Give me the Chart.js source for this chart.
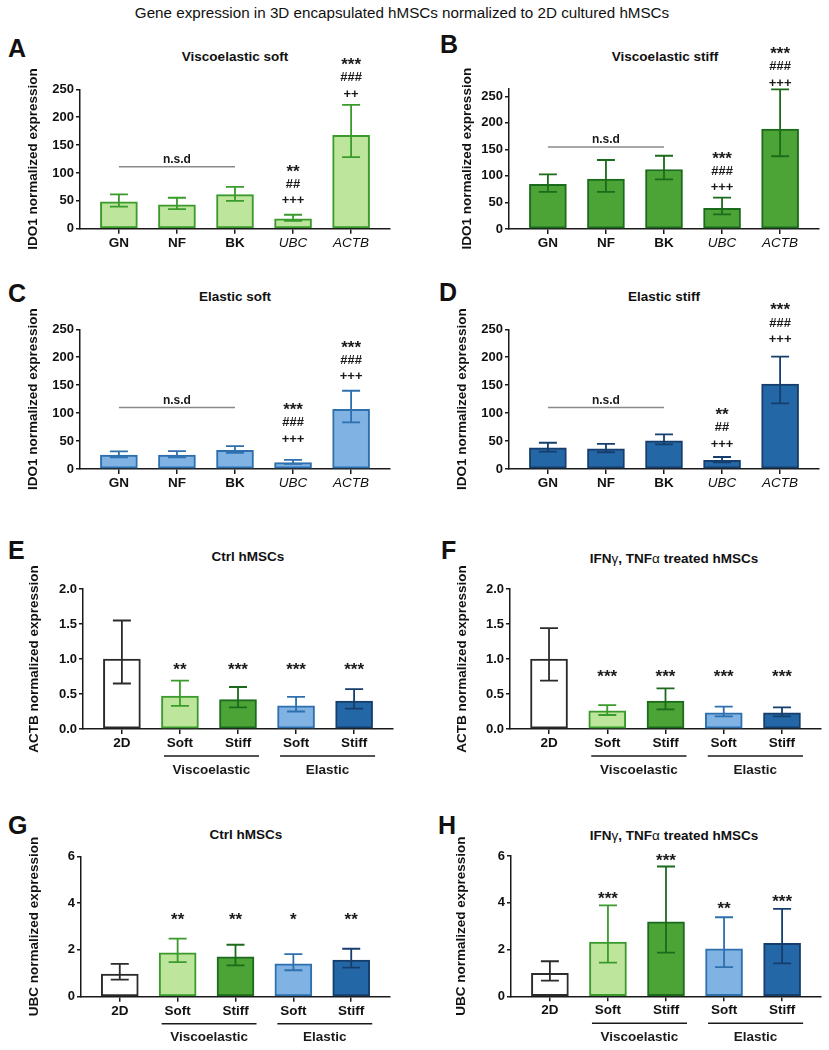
<!DOCTYPE html>
<html>
<head>
<meta charset="utf-8">
<script src="https://cdn.jsdelivr.net/npm/chart.js@4.4.1/dist/chart.umd.min.js"></script>
<style>
  body { margin: 0; background: #fff; }
  #fig { position: relative; width: 829px; height: 1050px; font-family: "Liberation Sans", Arial, sans-serif; color: #111; }
  #fig canvas { position: absolute; }
  .ttl { position: absolute; transform: translate(-50%, -50%); white-space: nowrap; font-weight: bold; font-size: 13.5px; line-height: 1; }
  .ttl span { font-weight: normal; }
  .lab { position: absolute; transform: translateY(-50%); font-weight: bold; font-size: 25px; line-height: 1; }
  #main { position: absolute; left: 402px; top: 13px; transform: translate(-50%, -50%); font-size: 15.2px; white-space: nowrap; line-height: 1; }
</style>
</head>
<body>
<div id="fig">
  <div id="main">Gene expression in 3D encapsulated hMSCs normalized to 2D cultured hMSCs</div>
  <div class="lab" style="left:8px;top:48px">A</div>
  <div class="lab" style="left:440px;top:44px">B</div>
  <div class="lab" style="left:8px;top:293px">C</div>
  <div class="lab" style="left:439px;top:292px">D</div>
  <div class="lab" style="left:8px;top:550px">E</div>
  <div class="lab" style="left:441px;top:550px">F</div>
  <div class="lab" style="left:8px;top:825px">G</div>
  <div class="lab" style="left:438px;top:825px">H</div>
  <div class="ttl" style="left:235px;top:57px">Viscoelastic soft</div>
  <div class="ttl" style="left:665px;top:57px">Viscoelastic stiff</div>
  <div class="ttl" style="left:235px;top:297px">Elastic soft</div>
  <div class="ttl" style="left:664px;top:297px">Elastic stiff</div>
  <div class="ttl" style="left:248px;top:557px">Ctrl hMSCs</div>
  <div class="ttl" style="left:674px;top:559px">IFN<span>γ</span>, TNF<span>α</span> treated hMSCs</div>
  <div class="ttl" style="left:246px;top:835px">Ctrl hMSCs</div>
  <div class="ttl" style="left:674px;top:836px">IFN<span>γ</span>, TNF<span>α</span> treated hMSCs</div>
</div>
<script>
const geneLabels = ['GN', 'NF', 'BK', 'UBC', 'ACTB'];
const condLabels = ['2D', 'Soft', 'Stiff', 'Soft', 'Stiff'];
const groupLabels = ['Viscoelastic', 'Elastic'];

const idoTicks = [0, 50, 100, 150, 200, 250];
const actbTicks = [0, 0.5, 1, 1.5, 2];
const ubcTicks = [0, 2, 4, 6];

// IDO1, viscoelastic soft (A)
const visSoftMean = [48, 43, 61, 17.5, 167.5];
const visSoftHi = [61.5, 55.5, 75, 25, 222];
const visSoftLo = [39.5, 35, 50, 14, 128.5];
const visSoftSig = [[], [], [], ['**', '##', '+++'], ['***', '###', '++']];
const visSoftSigAt = [0, 0, 0, 50, 241.5];
const visSoftNsd = 111;

// IDO1, viscoelastic stiff (B)
const visStiffMean = [84, 94, 112, 39, 188];
const visStiffHi = [103, 130, 138, 59, 263];
const visStiffLo = [70, 70, 93.5, 27.5, 137];
const visStiffSig = [[], [], [], ['***', '###', '+++'], ['***', '###', '+++']];
const visStiffSigAt = [0, 0, 0, 77.5, 274];
const visStiffNsd = 154.5;

// IDO1, elastic soft (C)
const elSoftMean = [25, 25, 33.5, 11.5, 107];
const elSoftHi = [31.5, 32, 41, 16.5, 140];
const elSoftLo = [21, 21, 29, 9, 83.5];
const elSoftSig = [[], [], [], ['***', '###', '+++'], ['***', '###', '+++']];
const elSoftSigAt = [0, 0, 0, 53.5, 165];
const elSoftNsd = 110;

// IDO1, elastic stiff (D)
const elStiffMean = [38, 36, 50.5, 15.5, 152];
const elStiffHi = [47, 45, 62, 21.5, 201];
const elStiffLo = [31, 30, 44, 12, 117.5];
const elStiffSig = [[], [], [], ['**', '##', '+++'], ['***', '###', '+++']];
const elStiffSigAt = [0, 0, 0, 44.5, 231.5];
const elStiffNsd = 110;

// ACTB, ctrl (E) and treated (F)
const actbCtrlMean = [1.0, 0.47, 0.42, 0.33, 0.40];
const actbCtrlHi = [1.55, 0.69, 0.60, 0.46, 0.57];
const actbCtrlLo = [0.65, 0.33, 0.31, 0.25, 0.29];
const actbCtrlSig = ['', '**', '***', '***', '***'];
const actbCtrlSigAt = [0, 0.9, 0.9, 0.9, 0.9];

const actbTreatMean = [1.0, 0.26, 0.40, 0.23, 0.23];
const actbTreatHi = [1.44, 0.34, 0.58, 0.32, 0.31];
const actbTreatLo = [0.69, 0.20, 0.28, 0.18, 0.18];
const actbTreatSig = ['', '***', '***', '***', '***'];
const actbTreatSigAt = [0, 0.8, 0.8, 0.8, 0.8];

// UBC, ctrl (G) and treated (H)
const ubcCtrlMean = [0.97, 1.88, 1.70, 1.40, 1.57];
const ubcCtrlHi = [1.40, 2.48, 2.22, 1.82, 2.05];
const ubcCtrlLo = [0.73, 1.48, 1.34, 1.13, 1.24];
const ubcCtrlSig = ['', '**', '**', '*', '**'];
const ubcCtrlSigAt = [0, 3.46, 3.46, 3.46, 3.46];

const ubcTreatMean = [0.98, 2.32, 3.18, 2.03, 2.27];
const ubcTreatHi = [1.50, 3.89, 5.55, 3.38, 3.74];
const ubcTreatLo = [0.67, 1.44, 1.87, 1.25, 1.41];
const ubcTreatSig = ['', '***', '***', '**', '***'];
const ubcTreatSigAt = [0, 4.34, 5.97, 3.91, 4.21];

const FONT = '"Liberation Sans", Arial, sans-serif';
const AXIS = '#1a1a1a';
const C = {
  white: { fill: '#ffffff', line: '#2b2b2b' },
  lgreen: { fill: '#bde59b', line: '#3a9b2c' },
  dgreen: { fill: '#4ca436', line: '#1c6a1c' },
  lblue: { fill: '#80b3e3', line: '#2e6fae' },
  dblue: { fill: '#2467a6', line: '#163e6c' }
};
const condColors = [C.white, C.lgreen, C.dgreen, C.lblue, C.dblue];

function extras(p) {
  return {
    id: 'extras',
    afterDatasetsDraw(chart) {
      const { ctx, scales: { x, y } } = chart;
      ctx.save();
      ctx.lineWidth = 1.8;
      p.hi.forEach((h, i) => {
        const cx = x.getPixelForValue(i);
        const t = y.getPixelForValue(h), b = y.getPixelForValue(p.lo[i]);
        ctx.strokeStyle = p.colors[i].line;
        ctx.beginPath();
        ctx.moveTo(cx, t); ctx.lineTo(cx, b);
        ctx.moveTo(cx - 9, t); ctx.lineTo(cx + 9, t);
        ctx.moveTo(cx - 9, b); ctx.lineTo(cx + 9, b);
        ctx.stroke();
      });
      ctx.restore();
    },
    afterDraw(chart) {
      const { ctx, scales: { x, y } } = chart;
      ctx.save();
      ctx.fillStyle = '#1a1a1a';
      ctx.textAlign = 'center';
      ctx.textBaseline = 'middle';
      p.sig.forEach((lines, i) => {
        const cx = x.getPixelForValue(i);
        const base = y.getPixelForValue(p.sigAt[i]);
        [].concat(lines).reverse().forEach((s, k) => {
          const star = s.startsWith('*');
          ctx.font = 'bold ' + (star ? 17 : 13) + 'px ' + FONT;
          ctx.fillText(s, cx, base - k * 16.7 + (star ? 4.5 : 0));
        });
      });
      if (p.nsd != null) {
        const yy = y.getPixelForValue(p.nsd);
        const x0 = x.getPixelForValue(0), x2 = x.getPixelForValue(2);
        ctx.strokeStyle = '#8a8a8a';
        ctx.lineWidth = 1.5;
        ctx.beginPath(); ctx.moveTo(x0, yy); ctx.lineTo(x2, yy); ctx.stroke();
        ctx.font = 'bold 12px ' + FONT;
        ctx.fillText('n.s.d', (x0 + x2) / 2, yy - 7);
      }
      if (p.groups) {
        const y0 = y.getPixelForValue(0);
        ctx.strokeStyle = AXIS;
        ctx.lineWidth = 1.5;
        ctx.font = 'bold 13.5px ' + FONT;
        [[1, 2], [3, 4]].forEach((g, k) => {
          const a = x.getPixelForValue(g[0]) - 16, b = x.getPixelForValue(g[1]) + 21;
          ctx.beginPath(); ctx.moveTo(a, y0 + 27); ctx.lineTo(b, y0 + 27); ctx.stroke();
          ctx.fillText(groupLabels[k], (a + b) / 2, y0 + 41);
        });
      }
      ctx.restore();
    }
  };
}

function panel(p) {
  const [bl, bt, bw, bh] = p.box;
  const [al, at, ar, ab] = p.area;
  const cv = document.createElement('canvas');
  cv.width = bw; cv.height = bh;
  cv.style.left = bl + 'px'; cv.style.top = bt + 'px';
  cv.style.width = bw + 'px'; cv.style.height = bh + 'px';
  document.getElementById('fig').appendChild(cv);

  new Chart(cv, {
    type: 'bar',
    data: {
      datasets: [{
        data: p.mean.map((v, i) => ({ x: i, y: v })),
        backgroundColor: p.colors.map(c => c.fill),
        borderColor: p.colors.map(c => c.line),
        borderWidth: 2,
        borderSkipped: false,
        barThickness: 37
      }]
    },
    options: {
      responsive: false,
      animation: false,
      layout: { padding: { left: 0, top: at - bt, right: bl + bw - ar, bottom: 0 } },
      plugins: { legend: { display: false }, tooltip: { enabled: false } },
      scales: {
        x: {
          type: 'linear',
          offset: false,
          min: -0.67,
          max: 4.67,
          afterBuildTicks: s => { s.ticks = p.labels.map((_, i) => ({ value: i })); },
          afterFit: s => { s.height = bt + bh - ab; },
          ticks: {
            callback: v => p.labels[v],
            autoSkip: false,
            maxRotation: 0,
            padding: 1,
            color: '#111',
            font: c => {
              const it = p.italic && c.index >= 3;
              return { family: FONT, size: 13.5, weight: it ? 'normal' : 'bold', style: it ? 'italic' : 'normal' };
            }
          },
          grid: { offset: false, drawOnChartArea: false, tickLength: 5, color: AXIS, lineWidth: 1.5 },
          border: { color: AXIS, width: 1.5 }
        },
        y: {
          min: 0,
          max: p.ymax,
          afterBuildTicks: s => { s.ticks = p.ticks.map(v => ({ value: v })); },
          afterFit: s => { s.width = al - bl; },
          ticks: {
            callback: v => p.fmt ? v.toFixed(1) : String(v),
            padding: 2,
            color: '#111',
            font: { family: FONT, size: 13, weight: 'bold' }
          },
          grid: { drawOnChartArea: false, tickLength: 4, color: AXIS, lineWidth: 1.5 },
          border: { color: AXIS, width: 1.5 },
          title: {
            display: true,
            text: p.ytitle,
            color: '#111',
            font: { family: FONT, size: 13.5, weight: 'bold' },
            padding: { top: p.titleX - bl - 8.1, bottom: 0 }
          }
        }
      }
    },
    plugins: [extras(p)]
  });
}

const gene = { labels: geneLabels, italic: true, ticks: idoTicks, ytitle: 'IDO1 normalized expression' };
const cond = { labels: condLabels, italic: false, groups: true, colors: condColors };

panel({ ...gene, box: [0, 26, 410, 244], area: [80, 89.3, 390, 228.7], ymax: 250, titleX: 33.5,
  mean: visSoftMean, hi: visSoftHi, lo: visSoftLo, sig: visSoftSig, sigAt: visSoftSigAt, nsd: visSoftNsd,
  colors: geneLabels.map(() => C.lgreen) });
panel({ ...gene, box: [412, 26, 417, 244], area: [509, 88.3, 819, 229], ymax: 265, titleX: 467,
  mean: visStiffMean, hi: visStiffHi, lo: visStiffLo, sig: visStiffSig, sigAt: visStiffSigAt, nsd: visStiffNsd,
  colors: geneLabels.map(() => C.dgreen) });
panel({ ...gene, box: [0, 270, 410, 235], area: [80, 329.3, 390, 469], ymax: 250, titleX: 33.5,
  mean: elSoftMean, hi: elSoftHi, lo: elSoftLo, sig: elSoftSig, sigAt: elSoftSigAt, nsd: elSoftNsd,
  colors: geneLabels.map(() => C.lblue) });
panel({ ...gene, box: [412, 270, 417, 235], area: [509, 329.3, 819, 469], ymax: 250, titleX: 462.5,
  mean: elStiffMean, hi: elStiffHi, lo: elStiffLo, sig: elStiffSig, sigAt: elStiffSigAt, nsd: elStiffNsd,
  colors: geneLabels.map(() => C.dblue) });

panel({ ...cond, box: [0, 505, 410, 290], area: [83, 589, 393, 729], ymax: 2, ticks: actbTicks, fmt: true,
  ytitle: 'ACTB normalized expression', titleX: 34,
  mean: actbCtrlMean, hi: actbCtrlHi, lo: actbCtrlLo, sig: actbCtrlSig, sigAt: actbCtrlSigAt });
panel({ ...cond, box: [412, 505, 417, 290], area: [510, 589, 821, 729], ymax: 2, ticks: actbTicks, fmt: true,
  ytitle: 'ACTB normalized expression', titleX: 462,
  mean: actbTreatMean, hi: actbTreatHi, lo: actbTreatLo, sig: actbTreatSig, sigAt: actbTreatSigAt });
panel({ ...cond, box: [0, 795, 410, 255], area: [81, 856.3, 390, 996.7], ymax: 6, ticks: ubcTicks,
  ytitle: 'UBC normalized expression', titleX: 34,
  mean: ubcCtrlMean, hi: ubcCtrlHi, lo: ubcCtrlLo, sig: ubcCtrlSig, sigAt: ubcCtrlSigAt });
panel({ ...cond, box: [412, 795, 417, 255], area: [511, 856, 821, 996.3], ymax: 6, ticks: ubcTicks,
  ytitle: 'UBC normalized expression', titleX: 461.5,
  mean: ubcTreatMean, hi: ubcTreatHi, lo: ubcTreatLo, sig: ubcTreatSig, sigAt: ubcTreatSigAt });
</script>
</body>
</html>
